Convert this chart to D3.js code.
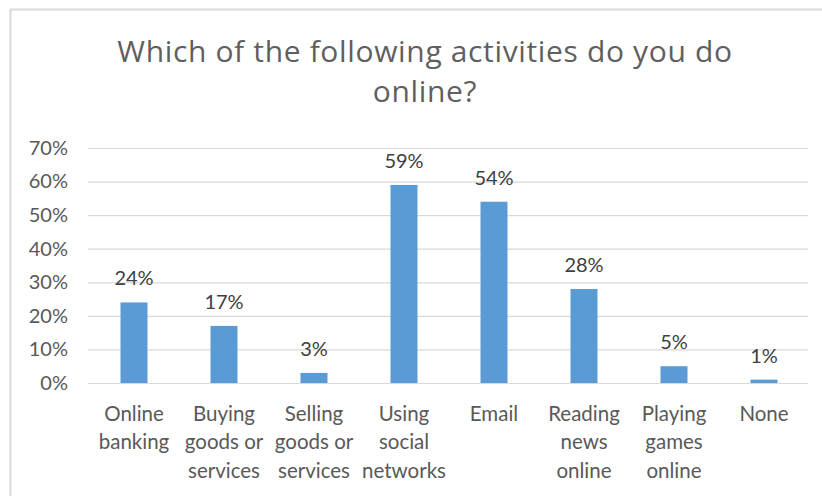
<!DOCTYPE html>
<html>
<head>
<meta charset="utf-8">
<script src="https://cdn.jsdelivr.net/npm/d3@7"></script>
<style>
  html, body { margin: 0; padding: 0; background: #ffffff; }
  svg { display: block; font-family: Lato, "Open Sans", sans-serif; }
</style>
</head>
<body>
<svg id="chart" width="822" height="496"></svg>
<script>
// Survey answers: share of respondents doing each activity online
const categories = [
  "Online banking",
  "Buying goods or services",
  "Selling goods or services",
  "Using social networks",
  "Email",
  "Reading news online",
  "Playing games online",
  "None"
];
const shares = [0.24, 0.17, 0.03, 0.59, 0.54, 0.28, 0.05, 0.01];
const yTicks = [0, 0.1, 0.2, 0.3, 0.4, 0.5, 0.6, 0.7];
const titleLines = ["Which of the following activities do you do", "online?"];

const svg = d3.select("#chart");
const W = 822, H = 496;
const plot = { left: 88, right: 808, top: 148, bottom: 383 };

// Chart frame (top and left edges visible)
svg.append("rect")
  .attr("x", 10.5).attr("y", 9.5)
  .attr("width", W).attr("height", H)
  .attr("fill", "#ffffff")
  .attr("stroke", "#d9d9d9")
  .attr("stroke-width", 2);

// Title
svg.append("g")
  .selectAll("text")
  .data(titleLines)
  .join("text")
  .attr("x", 425)
  .attr("y", (d, i) => 62 + i * 40)
  .attr("text-anchor", "middle")
  .attr("fill", "#5f5f5f")
  .attr("font-family", "'Open Sans', Lato, sans-serif")
  .attr("font-weight", 400)
  .attr("font-size", 30)
  .attr("letter-spacing", 0.65)
  .text(d => d);

const x = d3.scaleBand()
  .domain(categories)
  .range([plot.left, plot.right])
  .paddingInner(0.7)
  .paddingOuter(0.35);

const y = d3.scaleLinear()
  .domain([0, 0.7])
  .range([plot.bottom, plot.top]);

// Horizontal gridlines and percent labels
const yAxis = d3.axisLeft(y)
  .tickValues(yTicks)
  .tickFormat(d3.format(".0%"))
  .tickSize(-(plot.right - plot.left))
  .tickPadding(20);

const gy = svg.append("g")
  .attr("transform", `translate(${plot.left},0)`)
  .call(yAxis);
gy.select(".domain").remove();
gy.selectAll(".tick line")
  .attr("stroke", "#d9d9d9")
  .attr("stroke-width", 1.2);
gy.selectAll(".tick text")
  .attr("fill", "#595959")
  .attr("font-size", 20)
  .attr("font-family", "Lato, sans-serif");

// Bars
svg.append("g")
  .selectAll("rect")
  .data(shares)
  .join("rect")
  .attr("x", (d, i) => x(categories[i]) + 1)
  .attr("y", d => y(d))
  .attr("width", x.bandwidth())
  .attr("height", d => y(0) - y(d))
  .attr("fill", "#5b9bd5");

// Value labels
svg.append("g")
  .selectAll("text")
  .data(shares)
  .join("text")
  .attr("x", (d, i) => x(categories[i]) + 1 + x.bandwidth() / 2)
  .attr("y", d => y(d) - 17)
  .attr("text-anchor", "middle")
  .attr("fill", "#404040")
  .attr("font-size", 20)
  .text(d => d3.format(".0%")(d));

// Category labels, wrapped to the band step
const xAxis = d3.axisBottom(x).tickSize(0).tickPadding(0);
const gx = svg.append("g")
  .attr("transform", `translate(1,${plot.bottom})`)
  .call(xAxis);
gx.select(".domain").remove();
gx.selectAll(".tick text")
  .attr("fill", "#595959")
  .attr("font-size", 20.5)
  .attr("font-family", "Lato, sans-serif")
  .each(function(label) {
    const t = d3.select(this);
    const words = label.split(" ");
    t.text(null);
    const maxW = x.step() - 2;
    let line = [];
    let lineNo = 0;
    let tspan = t.append("tspan").attr("x", 0).attr("y", 37.5);
    words.forEach(w => {
      line.push(w);
      tspan.text(line.join(" "));
      if (tspan.node().getComputedTextLength() > maxW && line.length > 1) {
        line.pop();
        tspan.text(line.join(" "));
        line = [w];
        lineNo += 1;
        tspan = t.append("tspan").attr("x", 0).attr("y", 37.5 + lineNo * 28.5).text(w);
      }
    });
  })
  .attr("dy", null);
</script>
</body>
</html>
